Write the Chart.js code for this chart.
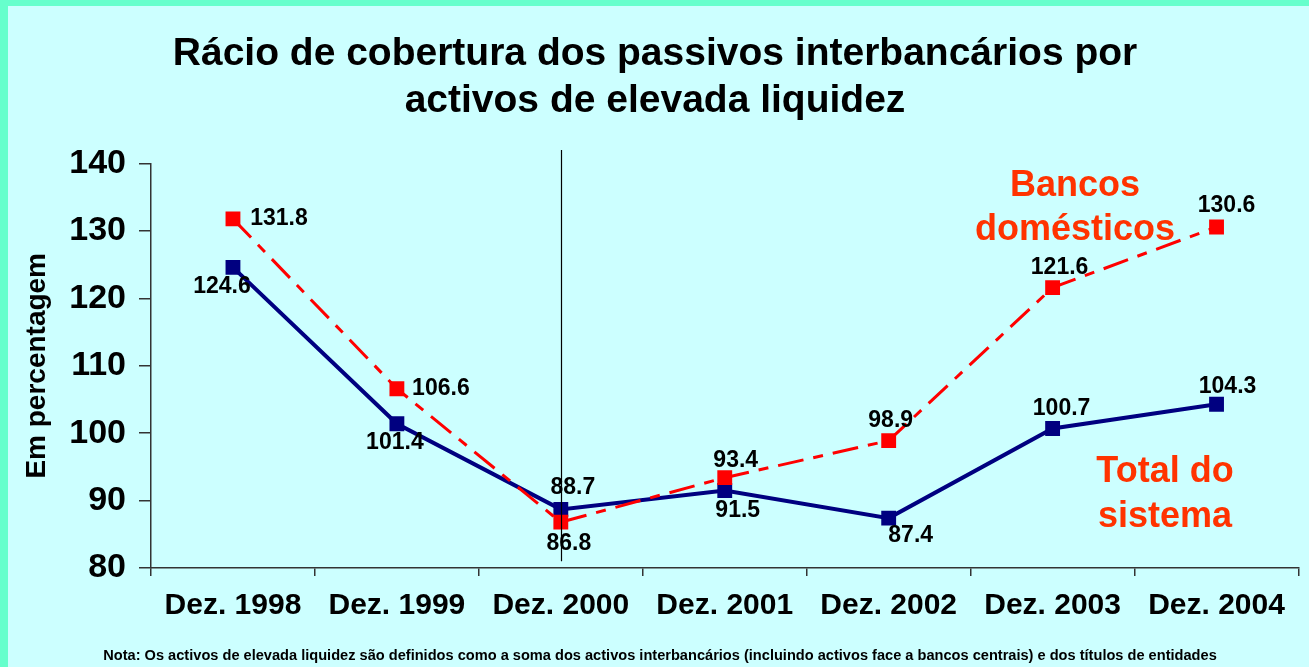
<!DOCTYPE html>
<html>
<head>
<meta charset="utf-8">
<script src="https://cdn.jsdelivr.net/npm/chart.js@4.4.0/dist/chart.umd.min.js"></script>
<style>
  html, body { margin: 0; padding: 0; background: #66FFCC; overflow: hidden; }
  #chart { position: absolute; left: 0; top: 0; }
</style>
</head>
<body>
<canvas id="chart" width="1309" height="667"></canvas>
<script>
// data
var categories = ['Dez. 1998', 'Dez. 1999', 'Dez. 2000', 'Dez. 2001', 'Dez. 2002', 'Dez. 2003', 'Dez. 2004'];
var bancosDomesticos = [131.8, 106.6, 86.8, 93.4, 98.9, 121.6, 130.6];
var totalSistema = [124.6, 101.4, 88.7, 91.5, 87.4, 100.7, 104.3];
var yTicks = [80, 90, 100, 110, 120, 130, 140];

// where each value label sits relative to its point (dx, dy)
var redLabelOffsets = [[46, 0], [44, 0], [8, 21], [11, -17], [2, -20], [7, -20], [10, -21]];
var blueLabelOffsets = [[-11, 19], [-2, 19], [12, -22], [13, 20], [22, 18], [9, -20], [11, -18]];

var FONT = '"Liberation Sans", Arial, sans-serif';
var noteText = 'Nota: Os activos de elevada liquidez são definidos como a soma dos activos interbancários (incluindo activos face a bancos centrais) e dos títulos de entidades';

var extras = {
  id: 'extras',
  beforeDraw: function (chart) {
    var ctx = chart.ctx;
    ctx.save();
    ctx.fillStyle = '#66FFCC';
    ctx.fillRect(0, 0, chart.width, chart.height);
    ctx.fillStyle = '#CCFFFF';
    ctx.fillRect(8, 6, chart.width - 8, chart.height - 6);
    ctx.restore();
  },
  afterDatasetsDraw: function (chart) {
    var ctx = chart.ctx;
    var x = chart.scales.x;
    var y = chart.scales.y;
    ctx.save();

    // vertical marker at Dez. 2000
    var vx = Math.round(x.getPixelForValue(2)) + 0.5;
    ctx.strokeStyle = '#000000';
    ctx.lineWidth = 1.2;
    ctx.beginPath();
    ctx.moveTo(vx, y.getPixelForValue(142));
    ctx.lineTo(vx, y.getPixelForValue(81));
    ctx.stroke();

    // value labels
    ctx.fillStyle = '#000000';
    ctx.font = 'bold 23px ' + FONT;
    ctx.textAlign = 'center';
    ctx.textBaseline = 'middle';
    var sets = [[0, bancosDomesticos, redLabelOffsets], [1, totalSistema, blueLabelOffsets]];
    sets.forEach(function (s) {
      var meta = chart.getDatasetMeta(s[0]);
      meta.data.forEach(function (pt, i) {
        ctx.fillText(s[1][i].toFixed(1), pt.x + s[2][i][0], pt.y + s[2][i][1]);
      });
    });

    // series names
    ctx.fillStyle = '#FF3300';
    ctx.font = 'bold 36px ' + FONT;
    ctx.fillText('Bancos', 1075, 186);
    ctx.fillText('domésticos', 1075, 230);
    ctx.fillText('Total do', 1165, 472);
    ctx.fillText('sistema', 1165, 517);

    // note
    ctx.fillStyle = '#000000';
    ctx.font = 'bold 14.6px ' + FONT;
    ctx.fillText(noteText, 660, 656);
    ctx.restore();
  }
};

var ctx = document.getElementById('chart').getContext('2d');
var chart = new Chart(ctx, {
  type: 'line',
  data: {
    labels: categories,
    datasets: [
      {
        label: 'Bancos domésticos',
        data: bancosDomesticos,
        borderColor: '#FF0000',
        backgroundColor: '#FF0000',
        borderWidth: 3,
        borderDash: [26, 10, 10, 10],
        pointStyle: 'rect',
        pointRadius: 10.5,
        pointBorderWidth: 0,
        pointBackgroundColor: '#FF0000',
        tension: 0,
        fill: false
      },
      {
        label: 'Total do sistema',
        data: totalSistema,
        borderColor: '#000080',
        backgroundColor: '#000080',
        borderWidth: 4,
        pointStyle: 'rect',
        pointRadius: 10.5,
        pointBorderWidth: 0,
        pointBackgroundColor: '#000080',
        tension: 0,
        fill: false
      }
    ]
  },
  options: {
    responsive: false,
    animation: false,
    layout: { padding: { left: 8, right: 7, top: 6, bottom: 39 } },
    plugins: {
      legend: { display: false },
      tooltip: { enabled: false },
      title: {
        display: true,
        text: ['Rácio de cobertura dos passivos interbancários por', 'activos de elevada liquidez'],
        color: '#000000',
        font: { family: FONT, size: 39, weight: 'bold', lineHeight: 1.2 },
        padding: { top: 25, bottom: 39 }
      }
    },
    scales: {
      x: {
        offset: true,
        border: { display: true, color: '#333333', width: 1.5 },
        grid: { display: true, offset: true, drawOnChartArea: false, drawTicks: true, tickLength: 8, color: '#333333', lineWidth: 1.5 },
        ticks: { color: '#000000', font: { family: FONT, size: 30, weight: 'bold' }, padding: 12, maxRotation: 0, autoSkip: false },
        afterFit: function (scale) { scale.height = 60; }
      },
      y: {
        min: 80,
        max: 140,
        afterBuildTicks: function (scale) {
          scale.ticks = yTicks.map(function (v) { return { value: v }; });
        },
        border: { display: true, color: '#333333', width: 1.5 },
        grid: { display: true, drawOnChartArea: false, drawTicks: true, tickLength: 12, color: '#333333', lineWidth: 1.5 },
        ticks: { color: '#000000', font: { family: FONT, size: 34, weight: 'bold' }, padding: 13 },
        title: {
          display: true,
          text: 'Em percentagem',
          color: '#000000',
          font: { family: FONT, size: 28, weight: 'bold' },
          padding: { top: 12, bottom: 0 }
        },
        afterFit: function (scale) { scale.width = 143; }
      }
    }
  },
  plugins: [extras]
});
</script>
</body>
</html>
